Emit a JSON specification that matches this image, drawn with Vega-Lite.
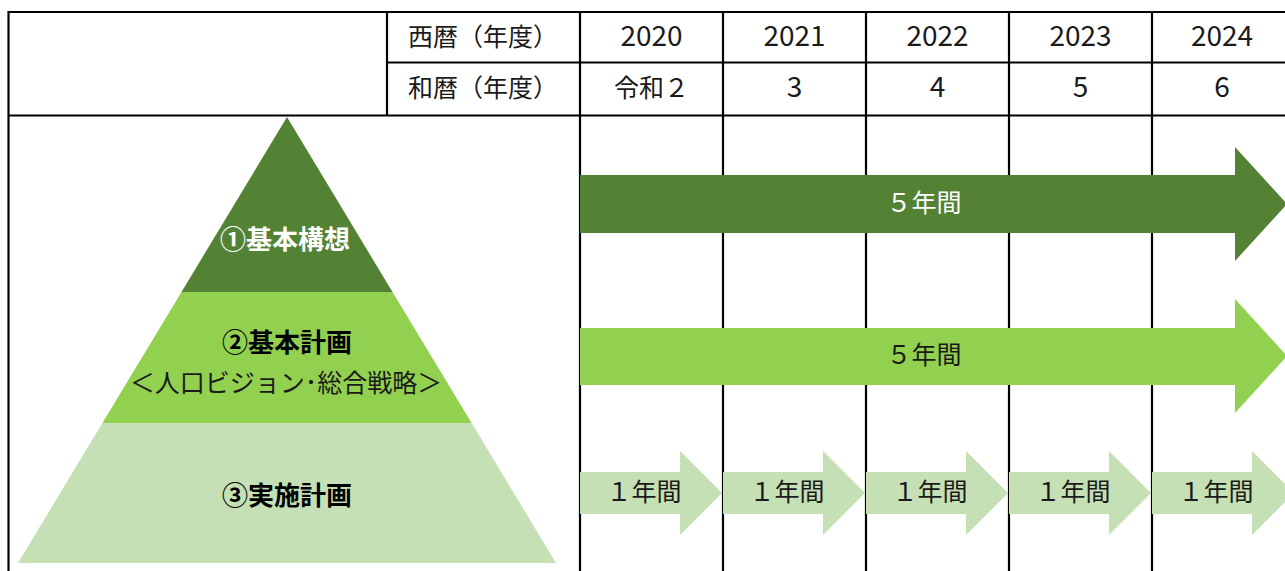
{
  "$schema": "https://vega.github.io/schema/vega-lite/v6.json",
  "width": 1285,
  "height": 571,
  "padding": 0,
  "autosize": {"type": "fit", "contains": "padding"},
  "background": "white",
  "config": {"view": {"stroke": null}, "axis": {"domain": false}},
  "datasets": {
    "lines": [
      {"x": 8.5, "x2": 1285, "y": 12, "y2": 12},
      {"x": 387, "x2": 1285, "y": 62.5, "y2": 62.5},
      {"x": 8.5, "x2": 1285, "y": 115.5, "y2": 115.5},
      {"x": 8.5, "x2": 8.5, "y": 11, "y2": 571},
      {"x": 387, "x2": 387, "y": 11, "y2": 115.5},
      {"x": 580, "x2": 580, "y": 11, "y2": 571},
      {"x": 723, "x2": 723, "y": 11, "y2": 571},
      {"x": 866, "x2": 866, "y": 11, "y2": 571},
      {"x": 1009, "x2": 1009, "y": 11, "y2": 571},
      {"x": 1152, "x2": 1152, "y": 11, "y2": 571}
    ],
    "pyramid": [
      {"band": "基本構想", "y": 117, "xl": 287, "xr": 287},
      {"band": "基本構想", "y": 292, "xl": 181.5, "xr": 392.5},
      {"band": "基本計画", "y": 292, "xl": 181.5, "xr": 392.5},
      {"band": "基本計画", "y": 423, "xl": 102.4, "xr": 471.6},
      {"band": "実施計画", "y": 423, "xl": 102.4, "xr": 471.6},
      {"band": "実施計画", "y": 563, "xl": 18, "xr": 556}
    ],
    "arrows": [
      {"id": "a1", "band": "基本構想", "x": 580, "top": 175, "bot": 233},
      {"id": "a1", "band": "基本構想", "x": 1235, "top": 175, "bot": 233},
      {"id": "a1", "band": "基本構想", "x": 1235.01, "top": 147, "bot": 261},
      {"id": "a1", "band": "基本構想", "x": 1287, "top": 204, "bot": 204},
      {"id": "a2", "band": "基本計画", "x": 580, "top": 328, "bot": 385},
      {"id": "a2", "band": "基本計画", "x": 1235, "top": 328, "bot": 385},
      {"id": "a2", "band": "基本計画", "x": 1235.01, "top": 299, "bot": 413},
      {"id": "a2", "band": "基本計画", "x": 1287, "top": 356, "bot": 356},
      {"id": "b1", "band": "実施計画", "x": 580, "top": 472, "bot": 514},
      {"id": "b1", "band": "実施計画", "x": 680, "top": 472, "bot": 514},
      {"id": "b1", "band": "実施計画", "x": 680.01, "top": 451, "bot": 535},
      {"id": "b1", "band": "実施計画", "x": 722, "top": 493, "bot": 493},
      {"id": "b2", "band": "実施計画", "x": 723, "top": 472, "bot": 514},
      {"id": "b2", "band": "実施計画", "x": 823, "top": 472, "bot": 514},
      {"id": "b2", "band": "実施計画", "x": 823.01, "top": 451, "bot": 535},
      {"id": "b2", "band": "実施計画", "x": 865, "top": 493, "bot": 493},
      {"id": "b3", "band": "実施計画", "x": 866, "top": 472, "bot": 514},
      {"id": "b3", "band": "実施計画", "x": 966, "top": 472, "bot": 514},
      {"id": "b3", "band": "実施計画", "x": 966.01, "top": 451, "bot": 535},
      {"id": "b3", "band": "実施計画", "x": 1008, "top": 493, "bot": 493},
      {"id": "b4", "band": "実施計画", "x": 1009, "top": 472, "bot": 514},
      {"id": "b4", "band": "実施計画", "x": 1109, "top": 472, "bot": 514},
      {"id": "b4", "band": "実施計画", "x": 1109.01, "top": 451, "bot": 535},
      {"id": "b4", "band": "実施計画", "x": 1151, "top": 493, "bot": 493},
      {"id": "b5", "band": "実施計画", "x": 1152, "top": 472, "bot": 514},
      {"id": "b5", "band": "実施計画", "x": 1252, "top": 472, "bot": 514},
      {"id": "b5", "band": "実施計画", "x": 1252.01, "top": 451, "bot": 535},
      {"id": "b5", "band": "実施計画", "x": 1294, "top": 493, "bot": 493}
    ],
    "labels": [
      {"role": "header", "x": 483, "y": 38, "text": "西暦（年度）"},
      {"role": "header", "x": 483, "y": 89, "text": "和暦（年度）"},
      {"role": "header", "x": 651.5, "y": 89, "text": "令和２"},
      {"role": "digits", "x": 651.5, "y": 38, "text": "2020"},
      {"role": "digits", "x": 794.5, "y": 38, "text": "2021"},
      {"role": "digits", "x": 937.5, "y": 38, "text": "2022"},
      {"role": "digits", "x": 1080.5, "y": 38, "text": "2023"},
      {"role": "digits", "x": 1222, "y": 38, "text": "2024"},
      {"role": "digits", "x": 794.5, "y": 89, "text": "3"},
      {"role": "digits", "x": 937.5, "y": 89, "text": "4"},
      {"role": "digits", "x": 1080.5, "y": 89, "text": "5"},
      {"role": "digits", "x": 1222, "y": 89, "text": "6"},
      {"role": "boldwhite", "x": 285, "y": 241, "text": "①基本構想"},
      {"role": "bold", "x": 287, "y": 344, "text": "②基本計画"},
      {"role": "plain", "x": 286, "y": 384, "text": "＜人口ビジョン･総合戦略＞"},
      {"role": "bold", "x": 287, "y": 497, "text": "③実施計画"},
      {"role": "white", "x": 924, "y": 204, "text": "５年間"},
      {"role": "plain", "x": 924, "y": 356, "text": "５年間"},
      {"role": "plain", "x": 644, "y": 493, "text": "１年間"},
      {"role": "plain", "x": 787, "y": 493, "text": "１年間"},
      {"role": "plain", "x": 930, "y": 493, "text": "１年間"},
      {"role": "plain", "x": 1073, "y": 493, "text": "１年間"},
      {"role": "plain", "x": 1216, "y": 493, "text": "１年間"}
    ]
  },
  "layer": [
    {
      "data": {"name": "lines"},
      "mark": {"type": "rule", "color": "#000000", "strokeWidth": 2.2, "clip": true},
      "encoding": {
        "x": {"field": "x", "type": "quantitative", "scale": {"domain": [0, 1285], "nice": false, "zero": false}, "axis": null},
        "x2": {"field": "x2"},
        "y": {"field": "y", "type": "quantitative", "scale": {"domain": [0, 571], "nice": false, "zero": false, "reverse": true}, "axis": null},
        "y2": {"field": "y2"}
      }
    },
    {
      "data": {"name": "pyramid"},
      "mark": {"type": "area", "orient": "horizontal", "clip": true},
      "encoding": {
        "y": {"field": "y", "type": "quantitative"},
        "x": {"field": "xl", "type": "quantitative", "stack": null},
        "x2": {"field": "xr"},
        "detail": {"field": "band"},
        "color": {"field": "band", "type": "nominal", "scale": {"domain": ["基本構想", "基本計画", "実施計画"], "range": ["#548235", "#92D050", "#C5E0B4"]}, "legend": null}
      }
    },
    {
      "data": {"name": "arrows"},
      "mark": {"type": "area", "orient": "vertical", "clip": true},
      "encoding": {
        "x": {"field": "x", "type": "quantitative"},
        "y": {"field": "top", "type": "quantitative", "stack": null},
        "y2": {"field": "bot"},
        "detail": {"field": "id"},
        "color": {"field": "band", "type": "nominal", "legend": null}
      }
    },
    {
      "data": {"name": "labels"},
      "transform": [{"filter": "datum.role === 'header'"}],
      "mark": {"type": "text", "font": "Noto Sans CJK JP", "fontSize": 25, "color": "#1a1a1a", "align": "center", "baseline": "middle"},
      "encoding": {
        "x": {"field": "x", "type": "quantitative"},
        "y": {"field": "y", "type": "quantitative"},
        "text": {"field": "text"}
      }
    },
    {
      "data": {"name": "labels"},
      "transform": [{"filter": "datum.role === 'digits'"}],
      "mark": {"type": "text", "font": "Noto Sans CJK JP", "fontSize": 28, "color": "#1a1a1a", "align": "center", "baseline": "middle"},
      "encoding": {
        "x": {"field": "x", "type": "quantitative"},
        "y": {"field": "y", "type": "quantitative"},
        "text": {"field": "text"}
      }
    },
    {
      "data": {"name": "labels"},
      "transform": [{"filter": "datum.role === 'plain'"}],
      "mark": {"type": "text", "font": "Noto Sans CJK JP", "fontSize": 25, "color": "#1a1a1a", "align": "center", "baseline": "middle"},
      "encoding": {
        "x": {"field": "x", "type": "quantitative"},
        "y": {"field": "y", "type": "quantitative"},
        "text": {"field": "text"}
      }
    },
    {
      "data": {"name": "labels"},
      "transform": [{"filter": "datum.role === 'white'"}],
      "mark": {"type": "text", "font": "Noto Sans CJK JP", "fontSize": 25, "color": "#ffffff", "align": "center", "baseline": "middle"},
      "encoding": {
        "x": {"field": "x", "type": "quantitative"},
        "y": {"field": "y", "type": "quantitative"},
        "text": {"field": "text"}
      }
    },
    {
      "data": {"name": "labels"},
      "transform": [{"filter": "datum.role === 'bold'"}],
      "mark": {"type": "text", "font": "Noto Sans CJK JP", "fontSize": 26, "fontWeight": "bold", "color": "#000000", "align": "center", "baseline": "middle"},
      "encoding": {
        "x": {"field": "x", "type": "quantitative"},
        "y": {"field": "y", "type": "quantitative"},
        "text": {"field": "text"}
      }
    },
    {
      "data": {"name": "labels"},
      "transform": [{"filter": "datum.role === 'boldwhite'"}],
      "mark": {"type": "text", "font": "Noto Sans CJK JP", "fontSize": 26, "fontWeight": "bold", "color": "#ffffff", "align": "center", "baseline": "middle"},
      "encoding": {
        "x": {"field": "x", "type": "quantitative"},
        "y": {"field": "y", "type": "quantitative"},
        "text": {"field": "text"}
      }
    }
  ]
}
